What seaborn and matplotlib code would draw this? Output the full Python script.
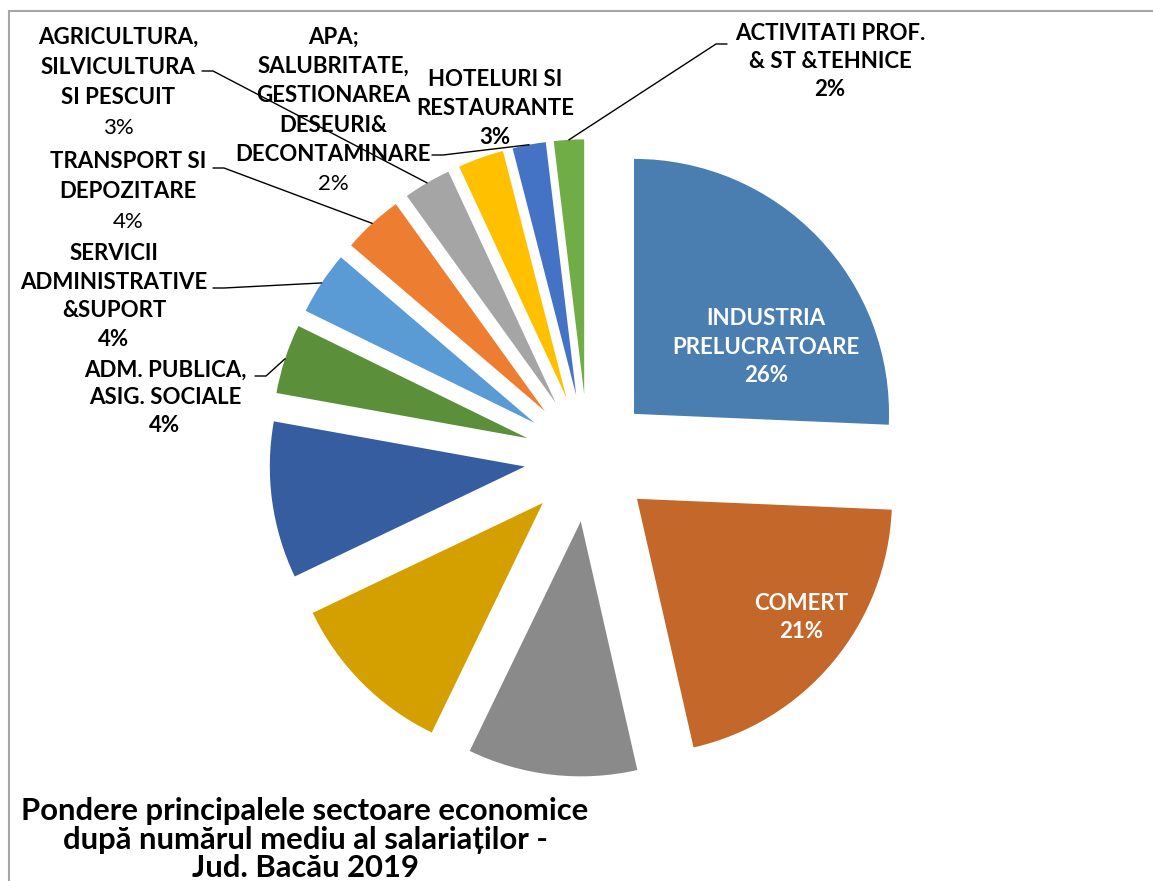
import numpy as np
import pandas as pd
import seaborn as sns
import matplotlib.pyplot as plt
from matplotlib.patches import Rectangle

sns.set_theme(style="white")
plt.rcParams['font.family'] = ['Lato', 'DejaVu Sans']

# ---------------- data ----------------
sectors = [
    "INDUSTRIA PRELUCRATOARE", "COMERT", "CONSTRUCTII", "SANATATE SI ASISTENTA SOCIALA",
    "INVATAMANT", "ADM. PUBLICA, ASIG. SOCIALE", "SERVICII ADMINISTRATIVE &SUPORT",
    "TRANSPORT SI DEPOZITARE", "AGRICULTURA, SILVICULTURA SI PESCUIT",
    "HOTELURI SI RESTAURANTE", "APA; SALUBRITATE, GESTIONAREA DESEURI& DECONTAMINARE",
    "ACTIVITATI PROF. & ST &TEHNICE",
]
shares = [25.6, 20.7, 10.7, 10.7, 9.9, 4.4, 4.0, 3.8, 3.0, 2.9, 2.1, 1.9]
label_lines = [
    ["INDUSTRIA", "PRELUCRATOARE"],
    ["COMERT"],
    None, None, None,
    ["ADM. PUBLICA,", "ASIG. SOCIALE"],
    ["SERVICII", "ADMINISTRATIVE", "&SUPORT"],
    ["TRANSPORT SI", "DEPOZITARE"],
    ["AGRICULTURA,", "SILVICULTURA", "SI PESCUIT"],
    ["HOTELURI SI", "RESTAURANTE"],
    ["APA;", "SALUBRITATE,", "GESTIONAREA", "DESEURI&", "DECONTAMINARE"],
    ["ACTIVITATI PROF.", "& ST &TEHNICE"],
]
slice_colors = ["#4A7EB0", "#C4672A", "#8A8A8A", "#D4A000", "#365D9F", "#5B8F3A",
                "#5B9BD5", "#ED7D31", "#A5A5A5", "#FFC000", "#4472C4", "#70AD47"]
title_lines = ["Pondere principalele sectoare economice",
               "după numărul mediu al salariaților -",
               "Jud. Bacău 2019"]

# ---------------- layout (pixels) ----------------
W, H = 1153, 881
CX, CY, RPX = 588, 458, 255   # pie centre / radius in pixels

# per label: centre x, first-line centre y, line step, percent bold, text colour,
# leader anchor (x, y) and stub direction (+1 right / -1 left) or None
label_layout = {
    0: (766, 317, 28.5, True, "white", None),
    1: (801, 602, 28.0, True, "white", None),
    5: (165, 368, 28.0, True, "black", ((255, 376), 1)),
    6: (114, 252, 28.5, True, "black", ((213, 288), 1)),
    7: (128, 160, 30.0, False, "black", ((213, 168), 1)),
    8: (118, 35, 30.0, False, "black", ((202, 71), 1)),
    9: (495, 78, 28.5, True, "black", None),
    10: (333, 35, 29.4, False, "black", ((432, 155), 1)),
    11: (830, 32, 27.5, True, "black", ((727, 44), -1)),
}

fig = plt.figure(figsize=(W / 100, H / 100), dpi=100)
fig.patch.set_facecolor("white")
ax = fig.add_axes([0, 0, 1, 1])

df = pd.DataFrame({"sector": sectors, "share": shares, "color": slice_colors})
wedges, _ = ax.pie(df["share"], colors=df["color"], startangle=90, counterclock=False,
                   explode=[0.25] * len(df), radius=1.0,
                   wedgeprops=dict(linewidth=0))
ax.set_aspect("auto")
ax.set_xlim(-CX / RPX, (W - CX) / RPX)
ax.set_ylim(-(H - CY) / RPX, CY / RPX)
ax.axis("off")


def px2data(x, y):
    return (x - CX) / RPX, (CY - y) / RPX


total = sum(shares)
cap_half = 8.5
for i, (cx, y0, dy, pbold, col, leader) in label_layout.items():
    lines = label_lines[i]
    pct = f"{round(shares[i] / total * 100)}%"
    for k, ln in enumerate(lines):
        fig.text(cx / W, 1 - (y0 + k * dy + cap_half) / H, ln, ha="center", va="baseline",
                 fontsize=16, fontweight="bold", color=col)
    k = len(lines)
    fig.text(cx / W, 1 - (y0 + k * dy + cap_half) / H, pct, ha="center", va="baseline",
             fontsize=16, fontweight="bold" if pbold else "normal", color=col)
    if leader is not None:
        (ax0, ay0), d = leader
        w = wedges[i]
        th = np.deg2rad((w.theta1 + w.theta2) / 2)
        ex, ey = w.center[0] + w.r * np.cos(th), w.center[1] + w.r * np.sin(th)
        p0 = px2data(ax0, ay0)
        p1 = px2data(ax0 + d * 11, ay0)
        ax.plot([p0[0], p1[0], ex], [p0[1], p1[1], ey], color="black", lw=1.0,
                solid_joinstyle="miter")

# title
for k, ln in enumerate(title_lines):
    fig.text(305 / W, 1 - (820 + k * 28.5) / H, ln, ha="center", va="baseline",
             fontsize=22.3, fontweight="bold", color="black")

# chart-area border (runs off the right and bottom edges)
fig.patches.append(Rectangle((9 / W, -0.05), 1.1, 1 - 11 / H + 0.05,
                             transform=fig.transFigure, fill=False,
                             edgecolor="#A6A6A6", lw=1.5))

fig.savefig("out.png", dpi=100)
